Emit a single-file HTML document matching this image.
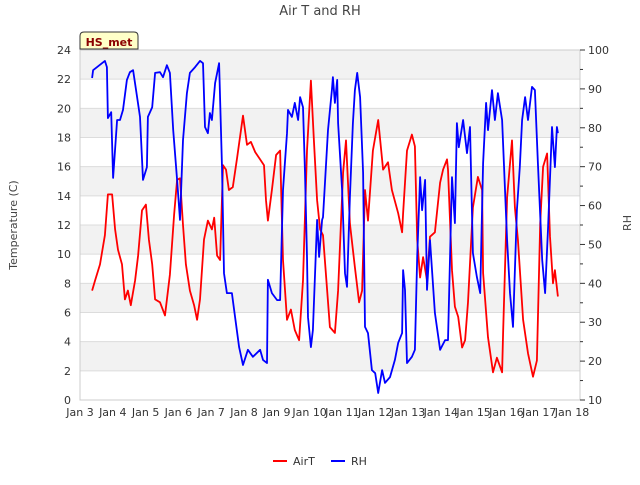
<!DOCTYPE html>
<html><head><meta charset="utf-8"><style>
body{margin:0;background:#fff;font-family:"Liberation Sans","DejaVu Sans",sans-serif;}
svg text{font-family:"DejaVu Sans","Liberation Sans",sans-serif;}
</style></head><body>
<svg id="chart" width="640" height="480" xmlns="http://www.w3.org/2000/svg">
<text x="320" y="15" text-anchor="middle" font-size="13" fill="#444">Air T and RH</text>
<g id="bands"></g>
<g id="grid"></g>
<rect x="80" y="50" width="500" height="350" fill="none" stroke="#ccc"/>
<g id="lines"></g>
<g id="axes"></g>
<g>
<path d="M80,49 L80,36 Q80,32 84,32 L134,32 Q138,32 138,36 L138,49 Z" fill="#ffffc8" stroke="#333"/>
<text x="109" y="46" text-anchor="middle" font-size="11" font-weight="bold" fill="#8b0000">HS_met</text>
</g>
<text transform="translate(17,225) rotate(-90)" text-anchor="middle" font-size="11" fill="#444">Temperature (C)</text>
<text transform="translate(631,223) rotate(-90)" text-anchor="middle" font-size="11" fill="#444">RH</text>
<g>
<g><line x1="273" y1="461" x2="287" y2="461" stroke="#f00" stroke-width="2"/><text x="293" y="465" font-size="11" fill="#333">AirT</text></g>
<g><line x1="331" y1="461" x2="345" y2="461" stroke="#00f" stroke-width="2"/><text x="351" y="465" font-size="11" fill="#333">RH</text></g>
</g>
</svg>
<script>
const tTimes=[3.37,3.46,3.61,3.76,3.85,3.98,4.07,4.16,4.28,4.37,4.46,4.55,4.68,4.77,4.89,5.01,5.10,5.20,5.29,5.44,5.59,5.74,5.87,5.96,6.05,6.14,6.23,6.35,6.48,6.57,6.66,6.78,6.90,7.02,7.09,7.18,7.27,7.36,7.45,7.54,7.66,7.79,7.97,8.09,8.21,8.34,8.49,8.61,8.67,8.73,8.85,8.98,9.10,9.19,9.31,9.43,9.55,9.68,9.80,9.92,10.04,10.13,10.23,10.32,10.41,10.62,10.77,10.87,11.02,11.11,11.23,11.38,11.51,11.60,11.69,11.78,11.93,12.09,12.24,12.39,12.51,12.70,12.82,12.85,12.97,13.12,13.21,13.28,13.37,13.46,13.58,13.67,13.82,13.98,14.07,14.19,14.22,14.34,14.43,14.53,14.65,14.74,14.83,14.98,15.13,15.26,15.29,15.44,15.59,15.71,15.87,15.90,16.02,16.17,16.26,16.35,16.51,16.66,16.81,16.93,17.03,17.12,17.24,17.33,17.42,17.48,17.57];
const airT=[7.5,8.2,9.3,11.3,14.1,14.1,11.7,10.3,9.3,6.9,7.5,6.5,8.2,9.9,13.0,13.4,11.0,9.3,6.9,6.7,5.8,8.6,12.7,15.1,15.2,12.0,9.3,7.5,6.5,5.5,6.9,11.0,12.3,11.7,12.5,9.9,9.6,16.1,15.8,14.4,14.6,16.6,19.5,17.5,17.7,17.0,16.5,16.1,13.7,12.3,14.4,16.8,17.1,9.6,5.5,6.2,4.8,4.1,8.2,17.1,21.9,17.8,13.7,11.7,11.3,5.0,4.6,7.5,15.6,17.8,12.1,9.1,6.7,7.5,14.4,12.3,17.1,19.2,15.8,16.3,14.4,12.8,11.5,12.8,17.1,18.2,17.4,11.0,8.4,9.8,8.2,11.2,11.5,14.9,15.8,16.5,15.8,8.9,6.4,5.7,3.6,4.1,6.7,13.2,15.3,14.4,8.7,4.3,1.9,2.9,1.9,4.6,13.9,17.8,13.2,11.0,5.5,3.2,1.6,2.7,12.1,16.0,16.9,11.2,8.0,8.9,7.1];
const rhTimes=[3.37,3.40,3.52,3.67,3.76,3.82,3.85,3.95,4.01,4.13,4.22,4.31,4.43,4.52,4.62,4.74,4.83,4.92,5.04,5.07,5.20,5.29,5.44,5.53,5.65,5.74,5.84,5.96,6.05,6.14,6.26,6.35,6.51,6.66,6.75,6.81,6.90,6.96,7.02,7.12,7.24,7.33,7.39,7.48,7.63,7.73,7.85,7.97,8.12,8.27,8.49,8.58,8.70,8.73,8.85,9.01,9.10,9.19,9.31,9.34,9.46,9.55,9.65,9.71,9.80,9.86,9.92,9.95,10.04,10.10,10.23,10.29,10.38,10.41,10.56,10.68,10.71,10.77,10.84,10.87,10.99,11.08,11.14,11.23,11.32,11.38,11.45,11.54,11.63,11.69,11.78,11.90,12.00,12.09,12.21,12.30,12.45,12.60,12.70,12.82,12.85,12.91,12.97,13.12,13.21,13.28,13.37,13.43,13.52,13.58,13.67,13.82,13.98,14.13,14.22,14.34,14.43,14.49,14.55,14.68,14.80,14.89,14.98,15.10,15.20,15.29,15.38,15.44,15.56,15.65,15.74,15.87,16.02,16.11,16.20,16.32,16.41,16.48,16.57,16.66,16.78,16.87,16.96,17.09,17.18,17.27,17.39,17.48,17.54,17.57];
const rh=[92.8,94.8,95.6,96.6,97.2,95.6,82.5,84.0,67.1,82.0,82.0,84.6,92.3,94.3,94.8,87.9,82.8,66.6,69.9,82.8,85.3,94.1,94.3,93.0,96.1,94.1,79.4,66.6,56.3,76.8,88.9,94.1,95.6,97.2,96.6,80.2,78.6,83.8,82.0,91.5,96.6,69.9,42.6,37.5,37.5,31.3,23.6,19.0,22.9,21.1,22.9,20.3,19.5,40.9,37.5,35.7,35.7,64.0,78.6,84.6,82.8,86.4,82.0,87.9,85.3,68.4,46.8,31.3,23.6,28.0,56.3,46.8,56.3,57.0,79.4,89.7,93.0,86.4,92.3,81.2,64.0,42.6,39.1,62.2,81.2,89.7,94.1,87.9,68.4,28.8,27.2,17.7,16.9,11.8,17.7,14.4,15.9,20.3,24.7,27.2,43.4,38.3,19.5,21.1,22.9,46.8,67.3,58.8,66.6,38.3,51.1,32.4,22.9,25.4,25.4,67.3,55.5,81.2,75.0,82.0,73.5,80.2,47.8,41.6,37.5,70.9,86.4,79.4,89.7,82.0,88.9,82.0,51.1,37.5,28.8,58.8,69.9,82.0,87.9,82.0,90.5,89.7,70.9,46.0,37.5,54.5,80.2,69.9,80.2,78.6];
const xTickLabels=["Jan 3","Jan 4","Jan 5","Jan 6","Jan 7","Jan 8","Jan 9","Jan 10","Jan 11","Jan 12","Jan 13","Jan 14","Jan 15","Jan 16","Jan 17","Jan 18"];
const tTicks=[0,2,4,6,8,10,12,14,16,18,20,22,24];
const rhTicks=[10,20,30,40,50,60,70,80,90,100];

const NS="http://www.w3.org/2000/svg";
const X0=80,X1=580,Y0=50,Y1=400;
const dayW=(572-80)/15;
function xs(d){return X0+(d-3)*dayW;}
function yT(v){return Y1-(v/24)*(Y1-Y0);}
function yR(v){return Y1-((v-10)/90)*(Y1-Y0);}
function mk(tag,attrs,parent){const e=document.createElementNS(NS,tag);for(const k in attrs)e.setAttribute(k,attrs[k]);parent.appendChild(e);return e;}
const bands=document.getElementById('bands'),grid=document.getElementById('grid'),axes=document.getElementById('axes'),lines=document.getElementById('lines');
for(let v=2;v<24;v+=4){
  const r=mk('rect',{x:X0,y:yT(v+2),width:X1-X0,height:yT(v)-yT(v+2),fill:'#f2f2f2'},bands);
  
  
}
tTicks.forEach(v=>{
  const g=mk('line',{x1:X0,x2:X1,y1:yT(v),y2:yT(v),stroke:'#dcdcdc'},grid);
  
  
  const t=mk('text',{x:X0-9,y:yT(v)+4,'text-anchor':'end','font-size':11,fill:'#333'},axes);
  t.textContent=v;
  
  
});
rhTicks.forEach(v=>{
  const l=mk('line',{x1:X1,x2:X1+5,y1:yR(v),y2:yR(v),stroke:'#333'},axes);
  
  
  const t=mk('text',{x:X1+8,y:yR(v)+4,'font-size':11,fill:'#333'},axes);
  t.textContent=v;
  
  
  if(v<100){const m=mk('line',{x1:X1,x2:X1+3,y1:yR(v+5),y2:yR(v+5),stroke:'#333'},axes);
  
  }
});
xTickLabels.forEach((s,i)=>{
  const t=mk('text',{x:xs(3+i),y:Y1+16,'text-anchor':'middle','font-size':11,fill:'#333'},axes);
  t.textContent=s;
  
  
});
function path(ts,vs,yf,color,name){
  let d='';ts.forEach((t,i)=>{d+=(i?'L':'M')+xs(t).toFixed(1)+','+yf(vs[i]).toFixed(1);});
  const p=mk('path',{d:d,fill:'none',stroke:color,'stroke-width':1.8,'stroke-linejoin':'round'},lines);
  
  
}
path(tTimes,airT,yT,'#ff0000','airt-line');
path(rhTimes,rh,yR,'#0000ff','rh-line');
</script>
</body></html>
